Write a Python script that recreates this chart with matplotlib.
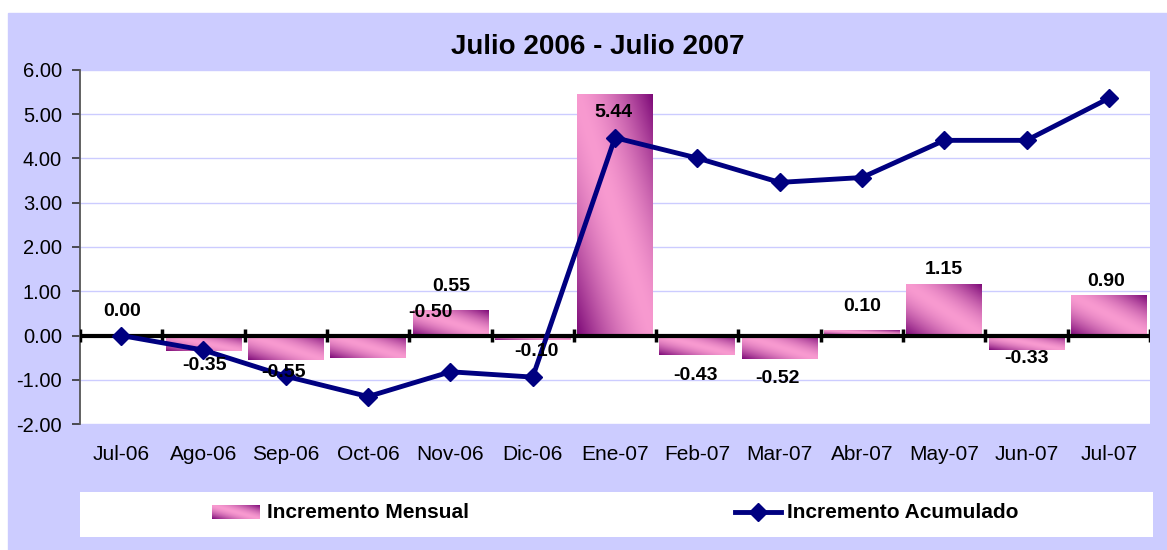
import numpy as np
import matplotlib
matplotlib.use("Agg")
import matplotlib.pyplot as plt
from matplotlib.patches import Rectangle

plt.rcParams['font.family'] = ['Liberation Sans', 'DejaVu Sans']

# datos
meses = ['Jul-06', 'Ago-06', 'Sep-06', 'Oct-06', 'Nov-06', 'Dic-06', 'Ene-07',
         'Feb-07', 'Mar-07', 'Abr-07', 'May-07', 'Jun-07', 'Jul-07']
mensual = [0.00, -0.35, -0.55, -0.50, 0.55, -0.10, 5.44,
           -0.43, -0.52, 0.10, 1.15, -0.33, 0.90]
acumulado = [0.00, -0.33, -0.92, -1.38, -0.82, -0.94, 4.47,
             4.01, 3.46, 3.57, 4.41, 4.41, 5.36]
titulo = 'Julio 2006 - Julio 2007'
serie_barras = 'Incremento Mensual'
serie_linea = 'Incremento Acumulado'

# desplazamiento de cada etiqueta (pixeles) respecto al extremo de la barra
desp_x = [1, 1, -2, 62, 1, 4, -2, -2, -2, 0, 0, 0, -3]
desp_y = [24, -15, -13, 45, 25, -12, -18, -21, -20, 25, 15, -8, 14]

W, H = 1167, 550
ROSA = np.array([248, 154, 208]) / 255
MORADO = np.array([125, 10, 120]) / 255
AZUL = '#000080'
LAVANDA = '#ccccff'


def degradado(n=80):
    u = np.linspace(0, 1, n)
    X, Y = np.meshgrid(u, u)
    t = np.abs(X + Y - 1) ** 1.6
    return ROSA * (1 - t[..., None]) + MORADO * t[..., None]


fig = plt.figure(figsize=(W / 100, H / 100), dpi=100)
fig.patches.append(Rectangle((8 / W, 0), 1 - 8 / W, (H - 13) / H,
                             transform=fig.transFigure, color=LAVANDA, zorder=-10))

ax = fig.add_axes([80 / W, (H - 424) / H, 1070 / W, 354 / H])
ax.set_facecolor('white')

x = np.arange(len(meses))
ancho = 0.92
grad = degradado()
for xi, v in zip(x, mensual):
    if v == 0:
        continue
    y0, y1 = (0, v) if v > 0 else (v, 0)
    ax.imshow(grad, extent=[xi - ancho / 2, xi + ancho / 2, y0, y1],
              origin='lower', aspect='auto', zorder=2, interpolation='bilinear')

ax.axhline(0, color='black', lw=3, zorder=3)
ax.vlines(np.arange(len(meses) + 1) - 0.5, -0.14, 0.14, color='black', lw=2.5, zorder=3)

ax.plot(x, acumulado, color=AZUL, lw=3.5, marker='D', markersize=9.5,
        zorder=4, solid_joinstyle='miter')

for xi, v, dx, dy in zip(x, mensual, desp_x, desp_y):
    ax.annotate(f'{v:.2f}', (xi, v), xytext=(dx * 0.72, dy * 0.72),
                textcoords='offset points', ha='center', va='center',
                fontsize=14, fontweight='bold', zorder=6)

ax.set_xlim(-0.5, len(meses) - 0.5)
ax.set_ylim(-2, 6)
ax.set_yticks(np.arange(-2, 7, 1))
ax.set_yticklabels([f'{t:.2f}' for t in np.arange(-2, 7, 1)])
ax.set_xticks(x)
ax.set_xticklabels(meses)
ax.tick_params(axis='x', length=0, pad=15, labelsize=15)
ax.tick_params(axis='y', length=6, width=1.2, direction='out', pad=7,
               labelsize=14.5, color='#333333')
ax.grid(axis='y', color=LAVANDA, lw=1, zorder=1)
ax.set_axisbelow(True)
for s in ['top', 'right', 'bottom']:
    ax.spines[s].set_visible(False)
ax.spines['left'].set_color('#555555')
ax.spines['left'].set_linewidth(1.3)

fig.text(598 / W, 1 - 47 / H, titulo, ha='center', va='center',
         fontsize=20, fontweight='bold')

# leyenda
leg = fig.add_axes([80 / W, (H - 537) / H, 1073 / W, 45 / H])
leg.set_facecolor('white')
leg.set_xticks([])
leg.set_yticks([])
for s in leg.spines.values():
    s.set_visible(False)
leg.imshow(degradado(), extent=[212, 260, 519, 505], origin='lower',
           aspect='auto', interpolation='bilinear')
leg.text(267, 512, serie_barras, ha='left', va='center',
         fontsize=15, fontweight='bold')
leg.plot([735, 781], [512, 512], color=AZUL, lw=3.5)
leg.plot([758], [512], color=AZUL, marker='D', markersize=9.5)
leg.text(787, 512, serie_linea, ha='left', va='center',
         fontsize=15, fontweight='bold')
leg.set_xlim(80, 1153)
leg.set_ylim(537, 492)

fig.savefig('out.png', dpi=100)
